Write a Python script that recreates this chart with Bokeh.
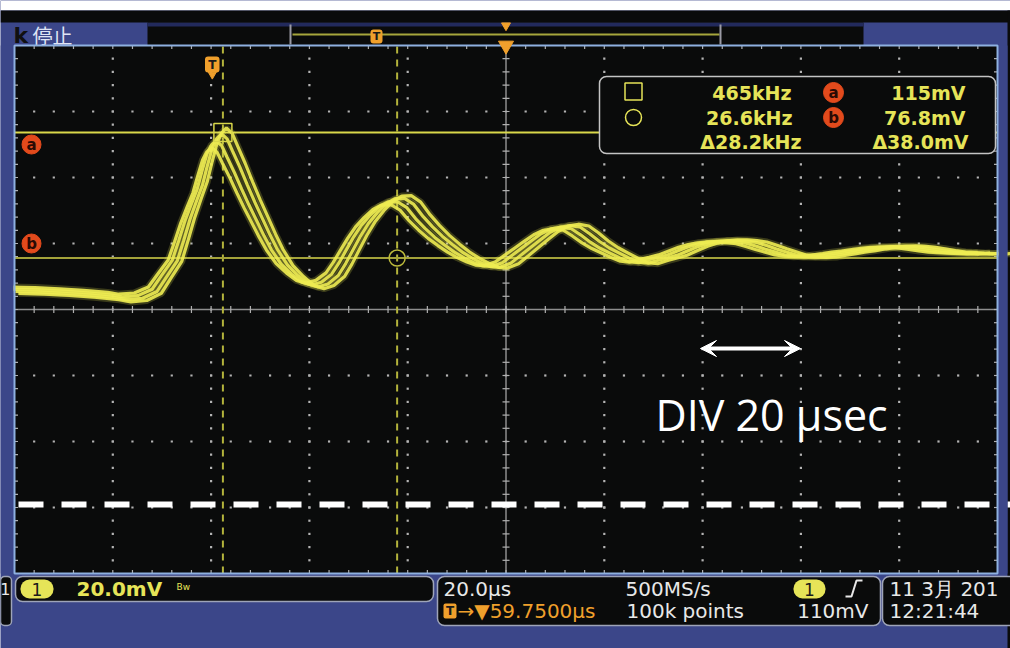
import numpy as np
from bokeh.plotting import figure
from bokeh.models import Range1d, Arrow, VeeHead
from bokeh.core.properties import value
from bokeh.embed import file_html
from bokeh.resources import INLINE

# ---------------- data ----------------
# middle trace of the persistence bundle (time in us, voltage in mV)
wave_t_us = [-40.25, -35, -30, -25, -20, -17.7, -14.5, -11.6, -9.8, -7.5, -6.2, -4.9, -3.6,
             -2.4, -1.4, -0.4, 0.5, 1.45, 2.6, 3.7, 5.2, 6.7, 8.2, 9.8, 11.3, 12.8, 14.8,
             16.9, 19.0, 21.0, 23.0, 25.1, 26.6, 28.1, 29.6, 31.2, 33.0, 34.8, 36.6, 38.5,
             40.4, 42.3, 44.2, 46.2, 48.2, 50.2, 52.2, 54.2, 56.0, 57.8, 60.0, 62.1, 64.1,
             66.1, 68.0, 70.0, 72.0, 74.1, 76.0, 78.0, 80.0, 82.0, 84.0, 85.9, 87.9, 89.9,
             91.8, 93.8, 95.9, 97.9, 99.9, 101.9, 103.9, 105.8, 107.8, 109.8, 111.8, 113.8,
             115.8, 117.8, 119.8, 121.7, 123.7, 125.7, 127.7, 129.6, 131.6, 133.7, 135.6,
             137.6, 139.6, 141.6, 143.6, 145.5, 147.6, 149.6, 153.4, 157.5, 159.75]
wave_mv = [67.0, 66.8, 66.4, 65.9, 65.2, 64.6, 65.0, 67.0, 71.0, 76.0, 82.0, 88.3, 93.6,
           98.3, 104.0, 109.3, 112.0, 113.4, 111.9, 108.3, 103.5, 98.3, 93.3, 88.3, 83.6, 79.3, 74.8,
           71.7, 69.2, 68.3, 69.2, 71.7, 75.2, 79.3, 83.3, 87.0, 90.2, 92.8, 94.3, 94.4,
           92.6, 89.0, 86.0, 83.2, 80.8, 78.6, 76.8, 75.3, 74.3, 74.1, 75.3, 77.7, 80.0,
           82.3, 84.4, 85.9, 86.4, 85.9, 84.0, 81.7, 79.8, 78.3, 76.8, 75.6, 75.3, 76.2,
           76.9, 77.7, 79.0, 80.2, 81.1, 81.7, 82.0, 82.0, 81.8, 81.4, 80.5, 79.5,
           78.6, 77.7, 77.3, 77.1, 77.2, 77.7, 78.1, 78.6, 79.0, 79.5, 79.9,
           80.2, 80.3, 80.2, 79.9, 79.5, 79.0, 78.6, 78.3, 78.0, 78.3]
settle_mv = 78.3
# the individual acquisitions in the bundle: time offset, time stretch, amplitude gain
trace_offset_us = [-1.6, -0.7, 0.4, 1.4]
trace_stretch = [0.985, 0.995, 1.005, 1.015]
trace_gain = [0.91, 0.97, 1.03, 1.08]

cursor_t_us = [2.15, 37.6]
cursor_mv = [114.8, 76.8]
cursor_names = ["a", "b"]

volts_per_div = 20.0      # mV/div
time_per_div = 20.0       # us/div
trigger_pos_us = 59.75
center_mv = 61.2
sample_rate = "500MS/s"
record_len = "100k points"
trigger_level = "110mV"
date_str = "11 3月  201"
time_str = "12:21:44"
status = "停止"

# ---------------- layout ----------------
W, H = 1010, 648
PX0, PY0 = 0, 0
XC, YC = 505.5, 309.0
PX_PER_US = 98.3 / time_per_div
PX_PER_MV = 66.0 / volts_per_div

x_start = trigger_pos_us - (XC - PX0) / PX_PER_US
x_end = trigger_pos_us + (PX0 + W - XC) / PX_PER_US
y_top = center_mv + (YC - PY0) / PX_PER_MV
y_bot = center_mv - (PY0 + H - YC) / PX_PER_MV

BLUE = "#3b4689"
BLACK = "#0a0b0b"
YEL = "#e6e458"
ORANGE = "#f0a02c"
WHITE = "#e8e8e8"
REDO = "#e24a1c"

p = figure(width=W, height=H, x_range=Range1d(x_start, x_end), y_range=Range1d(y_bot, y_top),
           output_backend="svg", toolbar_location=None, min_border=0,
           x_axis_location=None, y_axis_location=None,
           background_fill_color=BLUE, border_fill_color=BLUE, outline_line_color=None)
p.xgrid.visible = False
p.ygrid.visible = False
p.extra_x_ranges = {"px": Range1d(PX0, PX0 + W)}
p.extra_y_ranges = {"px": Range1d(PY0 + H, PY0)}
PX = dict(x_range_name="px", y_range_name="px")


def box(l, r, t, b, fill, line=None, lw=1.5, radius=0):
    kw = dict(left=[l], right=[r], top=[t], bottom=[b], fill_color=fill,
              line_color=line, line_width=lw, **PX)
    if radius:
        kw["border_radius"] = radius
    p.quad(**kw)


def txt(x, y, s, color, size, align="left", font="DejaVu Sans", bold=False):
    p.text(x=[x], y=[y], text=[s], text_color=color, text_font=value(font),
           text_font_size=f"{size}px", text_align=align, text_baseline="middle",
           text_font_style="bold" if bold else "normal", **PX)


# top strips
box(0, W, 0, 10, "white", None)
box(0, W, 10, 22, BLACK, None)
box(147, 863, 22, 45, BLACK, None)
box(147, 863, 22.5, 26, "#222a5c", None)
box(1007, W, 10, 648, BLACK, None)
txt(13, 35, "k", "#101010", 22, bold=True)
txt(32, 35, status, "#dfe4f4", 20, font="Noto Sans CJK JP")
# record view bar
p.segment(x0=[292], y0=[34], x1=[719], y1=[34], line_color="#a6a63c", line_width=2, **PX)
p.segment(x0=[290, 720], y0=[24, 24], x1=[290, 720], y1=[44, 44], line_color="#9a9aa4", line_width=2, **PX)
box(370, 382, 29, 43, ORANGE, None, radius=3)
txt(376, 36, "T", "#1a1a1a", 11, align="center", bold=True)
p.scatter(x=[505.5], y=[25], marker="inverted_triangle", size=9, color=ORANGE, **PX)

# graticule
t_left = trigger_pos_us - 5 * time_per_div
t_right = trigger_pos_us + 5 * time_per_div
v_lo = center_mv - 4 * volts_per_div
v_hi = center_mv + 4 * volts_per_div
p.quad(left=[t_left], right=[t_right], bottom=[v_lo], top=[v_hi], fill_color=BLACK, line_color=None)

dx, dy = [], []
minor_t = time_per_div / 5
minor_v = volts_per_div / 5
for k in range(1, 10):
    if k == 5:
        continue
    for j in range(1, 40):
        dx.append(t_left + k * time_per_div)
        dy.append(v_lo + j * minor_v)
for k in range(1, 8):
    if k == 4:
        continue
    for j in range(1, 50):
        dx.append(t_left + j * minor_t)
        dy.append(v_lo + k * volts_per_div)
p.scatter(x=dx, y=dy, marker="square", size=2.2, color="#b4b4b4", line_color=None)

# center cross + ticks
p.segment(x0=[t_left, trigger_pos_us], y0=[center_mv, v_lo], x1=[t_right, trigger_pos_us], y1=[center_mv, v_hi],
          line_color="#8e8e8e", line_width=1.5)
tick_v = 3.5 / PX_PER_MV
tick_t = 3.5 / PX_PER_US
tx = [t_left + j * minor_t for j in range(1, 50)]
tv = [v_lo + j * minor_v for j in range(1, 40)]
p.segment(x0=tx, y0=[center_mv - tick_v] * len(tx), x1=tx, y1=[center_mv + tick_v] * len(tx), line_color="#b0b0b0", line_width=1.2)
p.segment(x0=[trigger_pos_us - tick_t] * len(tv), y0=tv, x1=[trigger_pos_us + tick_t] * len(tv), y1=tv, line_color="#b0b0b0", line_width=1.2)
p.segment(x0=tx, y0=[v_hi] * len(tx), x1=tx, y1=[v_hi - tick_v] * len(tx), line_color="#b0b0b0", line_width=1.2)
p.segment(x0=tx, y0=[v_lo] * len(tx), x1=tx, y1=[v_lo + tick_v] * len(tx), line_color="#b0b0b0", line_width=1.2)
p.segment(x0=[t_left] * len(tv), y0=tv, x1=[t_left + tick_t] * len(tv), y1=tv, line_color="#b0b0b0", line_width=1.2)
p.segment(x0=[t_right] * len(tv), y0=tv, x1=[t_right - tick_t] * len(tv), y1=tv, line_color="#b0b0b0", line_width=1.2)

# cursors
p.segment(x0=cursor_t_us, y0=[v_lo, v_lo], x1=cursor_t_us, y1=[v_hi, v_hi],
          line_color="#b4b43c", line_width=2, line_dash="7 6")
p.segment(x0=[t_left, t_left], y0=cursor_mv, x1=[t_right, t_right], y1=cursor_mv,
          line_color=["#d9d84a", "#a4a33a"], line_width=2)

# white reference dashed line
p.segment(x0=[18], y0=[504], x1=[W], y1=[504], line_color="white", line_width=6, line_dash="25 18", **PX)

# waveform bundle
wt = np.array(wave_t_us)
wv = np.array(wave_mv)
for off, st, g in zip(trace_offset_us, trace_stretch, trace_gain):
    p.line(wt * st + off, settle_mv + (wv - settle_mv) * g, line_color="#e8e650", line_width=7, line_alpha=0.22)
for off, st, g in zip(trace_offset_us, trace_stretch, trace_gain):
    p.line(wt * st + off, settle_mv + (wv - settle_mv) * g, line_color="#eeec52", line_width=3.2, line_alpha=0.9)

# cursor markers
p.scatter(x=[cursor_t_us[0]], y=[cursor_mv[0]], marker="square", size=18, fill_color=None, line_color="#d8d64a", line_width=1.5)
p.scatter(x=[cursor_t_us[1]], y=[cursor_mv[1]], marker="circle", size=16, fill_color=None, line_color="#bdbb3c", line_width=1.5)

# side strips covering trace overflow + graticule border
box(0, 13, 45, 573, BLUE, None)
box(998, 1007, 45, 573, BLUE, None)
p.quad(left=[t_left], right=[t_right], bottom=[v_lo], top=[v_hi], fill_color=None, line_color="#8eb0e0", line_width=2)

# a / b level markers on left
for nm, yy in zip(cursor_names, [144, 243]):
    p.scatter(x=[31], y=[yy], marker="circle", size=19, color=REDO, **PX)
    txt(31, yy, nm, "#2a0a04", 15, align="center", bold=True)

# trigger markers
box(204.5, 219, 56, 72, ORANGE, None, radius=3)
p.scatter(x=[211.8], y=[74], marker="inverted_triangle", size=8, color=ORANGE, **PX)
txt(211.8, 64, "T", "#1a1a1a", 12, align="center", bold=True)
p.scatter(x=[trigger_pos_us], y=[v_hi], marker="inverted_triangle", size=15, color=ORANGE)


# measurement readout box
def fmt3(v):
    if v >= 100:
        return f"{v:.0f}"
    if v >= 10:
        return f"{v:.1f}"
    return f"{v:.2f}"


fa = 1000.0 / cursor_t_us[0]
fb = 1000.0 / cursor_t_us[1]
dfk = 1000.0 / (cursor_t_us[1] - cursor_t_us[0])
dv = cursor_mv[0] - cursor_mv[1]
box(599, 995, 76, 153, BLACK, "#c4c4c4", lw=1.5, radius=7)
p.scatter(x=[633], y=[91], marker="square", size=17, fill_color=None, line_color=YEL, line_width=1.5, **PX)
p.scatter(x=[633], y=[117], marker="circle", size=16, fill_color=None, line_color=YEL, line_width=1.5, **PX)
txt(791, 92, fmt3(fa) + "kHz", YEL, 19, align="right", bold=True)
txt(792, 117, fmt3(fb) + "kHz", YEL, 19, align="right", bold=True)
txt(801, 141, "Δ" + fmt3(dfk) + "kHz", YEL, 19, align="right", bold=True)
for yy, nm in zip([92, 117], cursor_names):
    p.scatter(x=[833], y=[yy], marker="circle", size=20, color=REDO, **PX)
    txt(833, yy, nm, "#2a0a04", 15, align="center", bold=True)
txt(965, 92, fmt3(cursor_mv[0]) + "mV", YEL, 19, align="right", bold=True)
txt(965, 117, fmt3(cursor_mv[1]) + "mV", YEL, 19, align="right", bold=True)
txt(968, 141, "Δ" + fmt3(dv) + "mV", YEL, 19, align="right", bold=True)

# scale annotation
p.add_layout(Arrow(x_start=700, y_start=348, x_end=800, y_end=348, line_color="white", line_width=4,
                   start=VeeHead(size=16, fill_color="white", line_color="white"),
                   end=VeeHead(size=16, fill_color="white", line_color="white"), **PX))
txt(655, 414, f"DIV {time_per_div:.0f} µsec", "white", 43, font="Open Sans")

# bottom panels
box(0, 11, 576, 625, BLACK, "#9ea4b8", radius=4)
txt(10, 588, "1", WHITE, 16, align="right")
box(15, 433, 576, 601, BLACK, "#9ea4b8", radius=7)
box(20, 53, 579, 598, YEL, None, radius=9)
txt(36.5, 589, "1", "#1a1a1a", 17, align="center")
txt(76, 588, f"{volts_per_div:.1f}mV", YEL, 20, bold=True)
txt(176, 586, "Bw", YEL, 9)
box(437, 880, 576, 625, BLACK, "#9ea4b8", radius=7)
txt(443, 588, f"{time_per_div:.1f}µs", WHITE, 20)
box(443, 456, 603, 618, ORANGE, None, radius=2)
txt(449.5, 610.5, "T", "#1a1a1a", 12, align="center", bold=True)
txt(457, 610, f"→▼{trigger_pos_us:.4f}µs", ORANGE, 20)
txt(625, 588, sample_rate, WHITE, 20)
txt(626, 610, record_len, WHITE, 20)
box(793, 825, 579, 598, YEL, None, radius=9)
txt(809, 589, "1", "#1a1a1a", 17, align="center")
p.line(x=[845, 851, 856, 862], y=[596, 596, 580, 580], line_color=WHITE, line_width=2, **PX)
txt(868, 610, trigger_level, WHITE, 20, align="right")
box(882, W + 10, 576, 625, BLACK, "#9ea4b8", radius=7)
txt(889, 588, date_str, WHITE, 20)
txt(889, 610, time_str, WHITE, 20)

open("out.html", "w").write(file_html(p, INLINE))
